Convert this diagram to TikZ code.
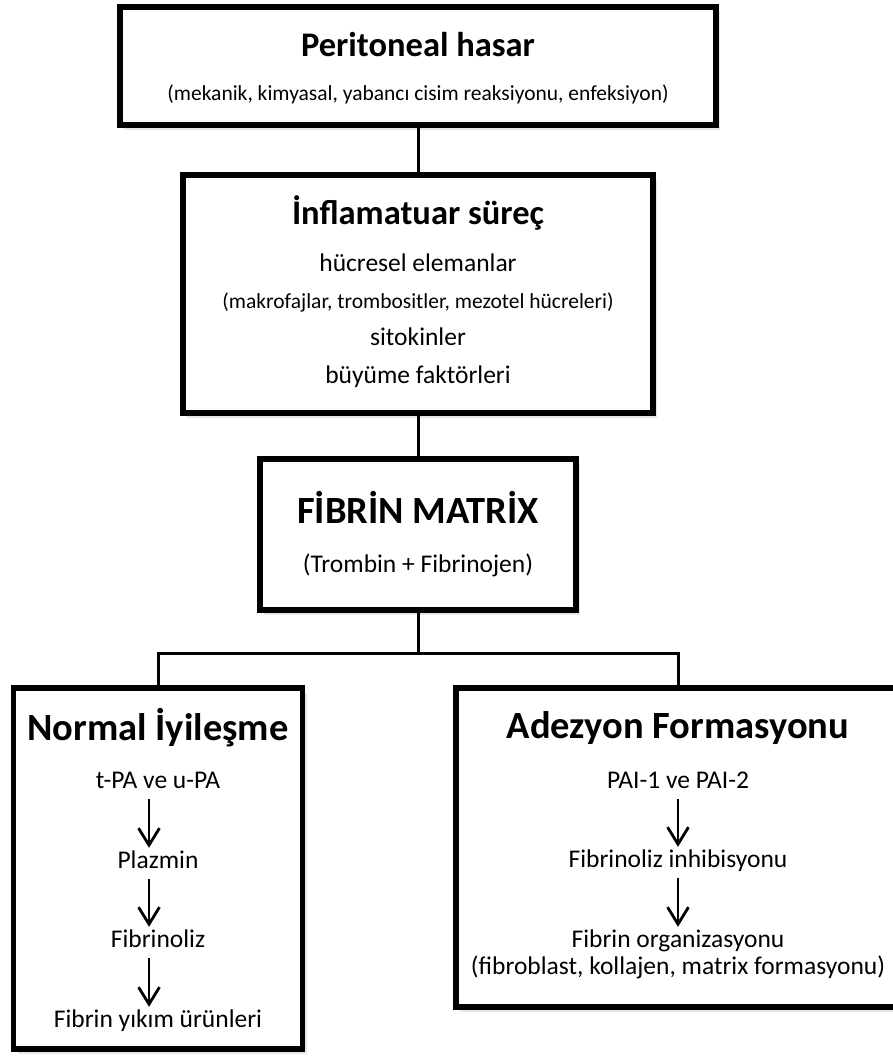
\documentclass[tikz,border=0pt]{standalone}
\usepackage{fontspec}
\setmainfont{Carlito}
\usepackage{tikz}
\usetikzlibrary{arrows.meta,positioning,shadows}

\begin{document}
\begin{tikzpicture}[
    x=1pt, y=1pt,
    >={Straight Barb[length=17pt,width=21pt]},
    box/.style={rectangle, draw, line width=5.5pt, fill=white, outer sep=0pt,
        drop shadow={shadow xshift=4pt, shadow yshift=-5pt, opacity=0.2}},
    link/.style={line width=3pt},
    arrow/.style={->, line width=2.8pt, shorten <=5pt, shorten >=2pt},
    titletxt/.style={anchor=base, inner sep=0pt, font=\fontsize{34.5}{40}\selectfont\bfseries},
    bigtitle/.style={titletxt, font=\fontsize{38.5}{44}\selectfont\bfseries},
    txt/.style={anchor=base, inner sep=0pt, text height=18pt, text depth=6pt, font=\fontsize{25.5}{30}\selectfont},
    small/.style={txt, font=\fontsize{21.5}{26}\selectfont}
]
\useasboundingbox (0,0) rectangle (892,-1056);

% boxes
\node[box, minimum width=596pt, minimum height=118pt] (hasar) at (418,-66) {};
\node[box, minimum width=470pt, minimum height=238pt, below=50pt of hasar] (surec) {};
\node[box, minimum width=316pt, minimum height=151pt, below=46pt of surec] (fibrin) {};
\node[box, minimum width=289pt, minimum height=361pt, below=78pt of fibrin, xshift=-260pt] (normal) {};
\node[box, minimum width=444pt, minimum height=319pt, below=78pt of fibrin, xshift=260pt] (adezyon) {};

% texts
\node[titletxt] (hasarT) at ([yshift=-50pt]hasar.north) {Peritoneal hasar};
\node[small] (hasarS) at ([yshift=-94pt]hasar.north) {(mekanik, kimyasal, yabancı cisim reaksiyonu, enfeksiyon)};

\node[titletxt] (surecT) at ([yshift=-50pt]surec.north) {İnflamatuar süreç};
\node[txt] (hucre) at ([yshift=-97pt]surec.north) {hücresel elemanlar};
\node[small] (makro) at ([yshift=-133pt]surec.north) {(makrofajlar, trombositler, mezotel hücreleri)};
\node[txt] (sitokin) at ([yshift=-170pt]surec.north) {sitokinler};
\node[txt] (buyume) at ([yshift=-208pt]surec.north) {büyüme faktörleri};

\node[bigtitle] (fibrinT) at ([yshift=-64pt]fibrin.north) {FİBRİN MATRİX};
\node[txt] (fibrinS) at ([yshift=-113pt]fibrin.north) {(Trombin + Fibrinojen)};

\node[bigtitle] (normalT) at ([yshift=-52pt]normal.north) {Normal İyileşme};
\node[txt] (tpa) at ([yshift=-100pt]normal.north) {t-PA ve u-PA};
\node[txt] (plazmin) at ([yshift=-180pt]normal.north) {Plazmin};
\node[txt] (fibrinoliz) at ([yshift=-259pt]normal.north) {Fibrinoliz};
\node[txt] (yikim) at ([yshift=-339pt]normal.north) {Fibrin yıkım ürünleri};

\node[bigtitle] (adezyonT) at ([yshift=-50pt]adezyon.north) {Adezyon Formasyonu};
\node[txt] (pai) at ([yshift=-100pt]adezyon.north) {PAI-1 ve PAI-2};
\node[txt] (inhib) at ([yshift=-179pt]adezyon.north) {Fibrinoliz inhibisyonu};
\node[txt] (organ) at ([yshift=-259pt]adezyon.north) {Fibrin organizasyonu};
\node[txt] (fibroblast) at ([yshift=-286pt]adezyon.north) {(fibroblast, kollajen, matrix formasyonu)};

% connectors
\draw[link] (hasar) -- (surec);
\draw[link] (surec) -- (fibrin);
\draw[link] (fibrin.south) -- ++(0,-43) coordinate (split);
\draw[link] (normal.north) |- (split) -| (adezyon.north);

\draw[arrow] ([xshift=-9pt]tpa.south) -- ([xshift=-9pt]plazmin.north);
\draw[arrow] ([xshift=-9pt]plazmin.south) -- ([xshift=-9pt]fibrinoliz.north);
\draw[arrow] ([xshift=-9pt]fibrinoliz.south) -- ([xshift=-9pt]yikim.north);
\draw[arrow] (pai) -- (inhib);
\draw[arrow] (inhib) -- (organ);
\end{tikzpicture}
\end{document}
